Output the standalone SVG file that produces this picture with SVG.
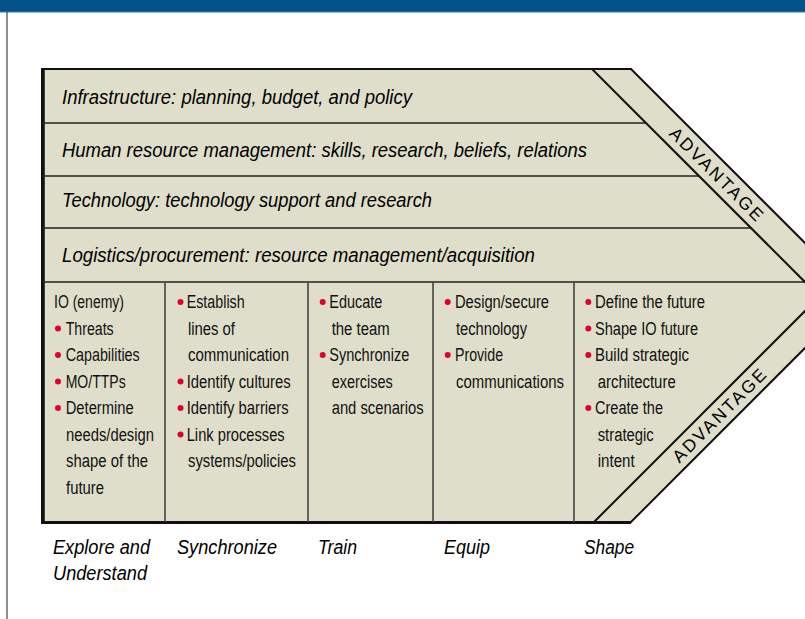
<svg xmlns="http://www.w3.org/2000/svg" width="805" height="619" viewBox="0 0 805 619">
<style>
.row{font-family:"Liberation Sans Narrow","Liberation Sans",Arial,sans-serif;font-style:italic;font-size:19.5px;fill:#000}
.cell{font-family:"Liberation Sans Narrow","Liberation Sans",Arial,sans-serif;font-size:18px;fill:#111}
.lab{font-family:"Liberation Sans Narrow","Liberation Sans",Arial,sans-serif;font-style:italic;font-size:20px;fill:#000}
.adv{font-family:"Liberation Sans",Arial,sans-serif;font-size:17.5px;fill:#000}
.dot{fill:#e2002b}
.hl{stroke:#222;stroke-width:1.6;fill:none}
.vl{stroke:#444;stroke-width:1.6;fill:none}
.dg{stroke:#111;stroke-width:2;fill:none}
</style>
<rect x="0" y="0" width="805" height="619" fill="#ffffff"/>
<rect x="0" y="0" width="805" height="12" fill="#03528a"/>
<line x1="0" y1="12" x2="805" y2="12" stroke="#3b78a6" stroke-width="1"/>
<line x1="7" y1="12" x2="7" y2="619" stroke="#444" stroke-width="1.2"/>

<g id="chevron">
<polygon points="42,69 631,69 857.5,295.5 630,523 42,523" fill="#dfdecb" stroke="#111" stroke-width="2"/>
<line x1="43" y1="69" x2="43" y2="523" stroke="#111" stroke-width="3.5"/>
<line x1="42" y1="522.5" x2="631" y2="522.5" stroke="#111" stroke-width="3"/>
</g>

<g id="connectors">
<line class="hl" x1="42" y1="123" x2="646" y2="123"/>
<line class="hl" x1="42" y1="176" x2="699" y2="176"/>
<line class="hl" x1="42" y1="228" x2="751" y2="228"/>
<line class="hl" x1="42" y1="282" x2="805" y2="282"/>
<line class="dg" x1="592" y1="69" x2="819.5" y2="296.5"/>
<line class="dg" x1="593" y1="523" x2="819.5" y2="296.5"/>
<line class="vl" x1="165" y1="282" x2="165" y2="522"/>
<line class="vl" x1="308" y1="282" x2="308" y2="522"/>
<line class="vl" x1="433" y1="282" x2="433" y2="522"/>
<line class="vl" x1="574" y1="282" x2="574" y2="522"/>
</g>

<g id="row-infrastructure"><text class="row" x="62" y="104" textLength="350" lengthAdjust="spacingAndGlyphs">Infrastructure: planning, budget, and policy</text></g>
<g id="row-hr"><text class="row" x="62" y="156.5" textLength="525" lengthAdjust="spacingAndGlyphs">Human resource management: skills, research, beliefs, relations</text></g>
<g id="row-technology"><text class="row" x="62" y="206.5" textLength="370" lengthAdjust="spacingAndGlyphs">Technology: technology support and research</text></g>
<g id="row-logistics"><text class="row" x="62" y="262" textLength="473" lengthAdjust="spacingAndGlyphs">Logistics/procurement: resource management/acquisition</text></g>

<g id="advantage-top"><text class="adv" transform="translate(716.5,174) rotate(45)" x="0" y="6.2" text-anchor="middle" textLength="124" lengthAdjust="spacing">ADVANTAGE</text></g>
<g id="advantage-bottom"><text class="adv" transform="translate(719,415.5) rotate(-45)" x="0" y="6.2" text-anchor="middle" textLength="124" lengthAdjust="spacing">ADVANTAGE</text></g>

<g id="col-explore">
<text class="cell" x="54" y="308" textLength="70" lengthAdjust="spacingAndGlyphs">IO (enemy)</text>
<circle class="dot" cx="58" cy="328.5" r="3"/><text class="cell" x="65.7" y="334.5" textLength="48" lengthAdjust="spacingAndGlyphs">Threats</text>
<circle class="dot" cx="58" cy="355" r="3"/><text class="cell" x="65.7" y="361" textLength="74" lengthAdjust="spacingAndGlyphs">Capabilities</text>
<circle class="dot" cx="58" cy="381.5" r="3"/><text class="cell" x="65.7" y="387.5" textLength="60" lengthAdjust="spacingAndGlyphs">MO/TTPs</text>
<circle class="dot" cx="58" cy="408" r="3"/><text class="cell" x="65.7" y="414" textLength="68" lengthAdjust="spacingAndGlyphs">Determine</text>
<text class="cell" x="66" y="440.5" textLength="88" lengthAdjust="spacingAndGlyphs">needs/design</text>
<text class="cell" x="66" y="467" textLength="82" lengthAdjust="spacingAndGlyphs">shape of the</text>
<text class="cell" x="66" y="493.5" textLength="38" lengthAdjust="spacingAndGlyphs">future</text>
</g>

<g id="col-synchronize">
<circle class="dot" cx="180.5" cy="302" r="3"/><text class="cell" x="186.7" y="308" textLength="58" lengthAdjust="spacingAndGlyphs">Establish</text>
<text class="cell" x="188" y="334.5" textLength="47" lengthAdjust="spacingAndGlyphs">lines of</text>
<text class="cell" x="188" y="361" textLength="101" lengthAdjust="spacingAndGlyphs">communication</text>
<circle class="dot" cx="180.5" cy="381.5" r="3"/><text class="cell" x="186.7" y="387.5" textLength="104" lengthAdjust="spacingAndGlyphs">Identify cultures</text>
<circle class="dot" cx="180.5" cy="408" r="3"/><text class="cell" x="186.7" y="414" textLength="102" lengthAdjust="spacingAndGlyphs">Identify barriers</text>
<circle class="dot" cx="180.5" cy="434.5" r="3"/><text class="cell" x="186.7" y="440.5" textLength="98" lengthAdjust="spacingAndGlyphs">Link processes</text>
<text class="cell" x="188" y="467" textLength="108" lengthAdjust="spacingAndGlyphs">systems/policies</text>
</g>

<g id="col-train">
<circle class="dot" cx="322.7" cy="302" r="3"/><text class="cell" x="329.3" y="308" textLength="53" lengthAdjust="spacingAndGlyphs">Educate</text>
<text class="cell" x="331.7" y="334.5" textLength="58" lengthAdjust="spacingAndGlyphs">the team</text>
<circle class="dot" cx="322.7" cy="355" r="3"/><text class="cell" x="329.3" y="361" textLength="80" lengthAdjust="spacingAndGlyphs">Synchronize</text>
<text class="cell" x="331.7" y="387.5" textLength="61" lengthAdjust="spacingAndGlyphs">exercises</text>
<text class="cell" x="331.7" y="414" textLength="92" lengthAdjust="spacingAndGlyphs">and scenarios</text>
</g>

<g id="col-equip">
<circle class="dot" cx="447.7" cy="302" r="3"/><text class="cell" x="455" y="308" textLength="94" lengthAdjust="spacingAndGlyphs">Design/secure</text>
<text class="cell" x="456" y="334.5" textLength="71" lengthAdjust="spacingAndGlyphs">technology</text>
<circle class="dot" cx="447.7" cy="355" r="3"/><text class="cell" x="455" y="361" textLength="48" lengthAdjust="spacingAndGlyphs">Provide</text>
<text class="cell" x="456" y="387.5" textLength="108" lengthAdjust="spacingAndGlyphs">communications</text>
</g>

<g id="col-shape">
<circle class="dot" cx="588.3" cy="302" r="3"/><text class="cell" x="595" y="308" textLength="110" lengthAdjust="spacingAndGlyphs">Define the future</text>
<circle class="dot" cx="588.3" cy="328.5" r="3"/><text class="cell" x="595" y="334.5" textLength="103" lengthAdjust="spacingAndGlyphs">Shape IO future</text>
<circle class="dot" cx="588.3" cy="355" r="3"/><text class="cell" x="595" y="361" textLength="94" lengthAdjust="spacingAndGlyphs">Build strategic</text>
<text class="cell" x="597.7" y="387.5" textLength="78" lengthAdjust="spacingAndGlyphs">architecture</text>
<circle class="dot" cx="588.3" cy="408" r="3"/><text class="cell" x="595" y="414" textLength="68" lengthAdjust="spacingAndGlyphs">Create the</text>
<text class="cell" x="597.7" y="440.5" textLength="56" lengthAdjust="spacingAndGlyphs">strategic</text>
<text class="cell" x="597.7" y="467" textLength="37" lengthAdjust="spacingAndGlyphs">intent</text>
</g>

<g id="labels">
<text class="lab" x="53" y="554" textLength="97" lengthAdjust="spacingAndGlyphs">Explore and</text>
<text class="lab" x="53" y="580" textLength="94" lengthAdjust="spacingAndGlyphs">Understand</text>
<text class="lab" x="177" y="554" textLength="100" lengthAdjust="spacingAndGlyphs">Synchronize</text>
<text class="lab" x="318" y="554" textLength="39" lengthAdjust="spacingAndGlyphs">Train</text>
<text class="lab" x="444" y="554" textLength="46" lengthAdjust="spacingAndGlyphs">Equip</text>
<text class="lab" x="584" y="554" textLength="50" lengthAdjust="spacingAndGlyphs">Shape</text>
</g>
</svg>
